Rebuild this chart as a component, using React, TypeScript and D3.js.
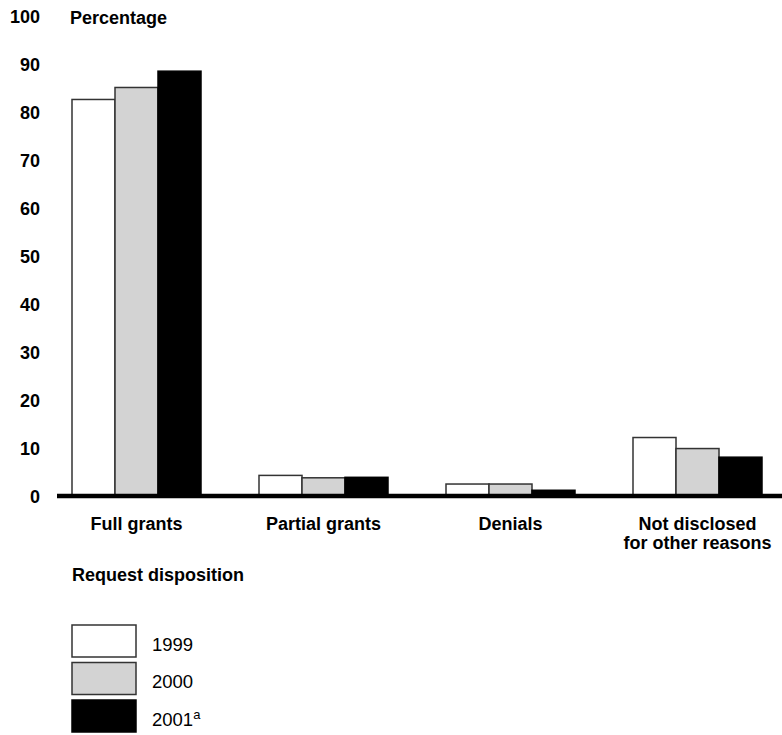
import React from "react";
import * as d3 from "d3";

const categories = ["Full grants", "Partial grants", "Denials", "Not disclosed\nfor other reasons"];
const years = ["1999", "2000", "2001"];
const values1999 = [82.8, 4.4, 2.6, 12.3];
const values2000 = [85.3, 3.9, 2.6, 10.0];
const values2001 = [88.7, 4.0, 1.3, 8.2];
const yTicks = [0, 10, 20, 30, 40, 50, 60, 70, 80, 90, 100];
const fills = ["#ffffff", "#d3d3d3", "#000000"];

export default function App() {
  const W = 782, H = 735;
  const series = [values1999, values2000, values2001];
  const y = d3.scaleLinear().domain([0, 100]).range([496.5, 17]);
  const step = 187, groupW = 129, start = 72;
  const x0 = d3.scaleOrdinal<string, number>().domain(categories).range(categories.map((_, i) => start + i * step));
  const x1 = d3.scaleBand<string>().domain(years).range([0, groupW]);
  const font = "'Liberation Sans', Arial, Helvetica, sans-serif";
  return (
    <svg width={W} height={H} style={{ position: "absolute", left: 0, top: 0, background: "#fff" }} fontFamily={font}>
      {yTicks.map((t) => (
        <text key={t} x={40} y={y(t)} dy="0.36em" textAnchor="end" fontSize={18} fontWeight="bold" fill="#000">{t}</text>
      ))}
      <text x={70} y={23.5} fontSize={18} fontWeight="bold" fill="#000">Percentage</text>
      {categories.map((c) => (
        <g key={c} transform={`translate(${x0(c)},0)`}>
          {years.map((yr, j) => {
            const v = series[j][categories.indexOf(c)];
            return (
              <rect key={yr} x={x1(yr)!} y={y(v)} width={x1.bandwidth()} height={y(0) - y(v)}
                fill={fills[j]} stroke={j === 2 ? "#000" : "#333"} strokeWidth={1.5} />
            );
          })}
          {c.split("\n").map((line, k) => (
            <text key={k} x={groupW / 2} y={529.5 + k * 19} textAnchor="middle" fontSize={18} fontWeight="bold" fill="#000">{line}</text>
          ))}
        </g>
      ))}
      <line x1={57} x2={W} y1={496} y2={496} stroke="#000" strokeWidth={4.5} />
      <text x={72} y={581} fontSize={18} fontWeight="bold" fill="#000">Request disposition</text>
      {years.map((yr, j) => (
        <g key={yr} transform={`translate(72,${625 + j * 37.5})`}>
          <rect x={0} y={0} width={64} height={32} fill={fills[j]} stroke={j === 2 ? "#000" : "#333"} strokeWidth={1.5} />
          <text x={80} y={25.5} fontSize={18.5} fill="#000">
            {yr}
            {j === 2 ? <tspan dy="-7" fontSize={13}>a</tspan> : null}
          </text>
        </g>
      ))}
    </svg>
  );
}
